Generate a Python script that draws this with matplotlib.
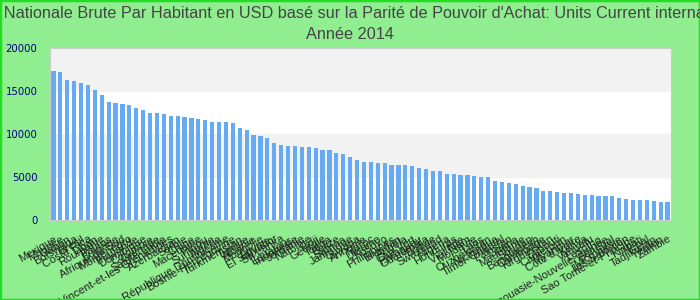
import matplotlib
matplotlib.use("Agg")
import matplotlib.pyplot as plt
from matplotlib.patches import Rectangle

plt.rcParams['font.family'] = ['Liberation Sans', 'DejaVu Sans']

pays = [
    "Mexique", "Maurice", "Gabon", "Botswana", "Brésil", "Costa Rica", "Liban",
    "Roumanie", "Palaos", "Bulgarie", "Afrique du Sud", "Monténégro", "Thaïlande",
    "Dominique", "Colombie", "Grenade", "Sainte-Lucie",
    "Saint-Vincent-et-les Grenadines", "Azerbaïdjan", "Serbie", "Chine",
    "Macédoine", "Pérou", "Suriname", "Algérie", "République Dominicaine",
    "Bosnie-Herzégovine", "Turkménistan", "Tunisie", "Albanie", "Mongolie",
    "Égypte", "El Salvador", "Sri Lanka", "Équateur", "Indonésie", "Jordanie",
    "Namibie", "Fidji", "Géorgie", "Tonga", "Belize", "Samoa", "Jamaïque",
    "Guyana", "Arménie", "Maroc", "Ukraine", "Kosovo", "Philippines", "Bhoutan",
    "Angola", "Cap-Vert", "Paraguay", "Guatemala", "Bolivie", "Swaziland",
    "Nigeria", "Honduras", "Inde", "Viêt Nam", "Moldavie", "Laos",
    "Ouzbékistan", "Nicaragua", "Timor-Oriental", "Pakistan", "Ghana",
    "Mauritanie", "Soudan", "Bangladesh", "Cambodge", "Kirghizistan",
    "Djibouti", "Cameroun", "Myanmar", "Côte d'Ivoire", "Kenya", "Vanuatu",
    "Lesotho", "Papouasie-Nouvelle-Guinée", "Sénégal", "Micronésie",
    "Îles Salomon", "Sao Tomé-et-Principe", "Kiribati", "Népal",
    "Tadjikistan", "Yémen", "Zambie",
]

rnb = [
    17360, 17240, 16310, 16190, 15880, 15730, 15140, 14560, 13750, 13630,
    13510, 13400, 13050, 12820, 12470, 12470, 12350, 12120, 12120, 12000,
    11880, 11770, 11650, 11420, 11420, 11420, 11300, 10720, 10490, 9900,
    9790, 9550, 8930, 8740, 8620, 8620, 8500, 8500, 8390, 8150,
    8150, 7810, 7650, 7340, 6990, 6760, 6760, 6640, 6640, 6410,
    6410, 6410, 6290, 6060, 5940, 5710, 5710, 5360, 5360, 5240,
    5240, 5130, 5010, 5010, 4540, 4430, 4310, 4190, 3960, 3840,
    3730, 3380, 3380, 3260, 3150, 3150, 3030, 2910, 2910, 2800,
    2800, 2800, 2560, 2450, 2330, 2330, 2330, 2210, 2100, 2100,
]

titre = ("Revenu Nationale Brute Par Habitant en USD basé sur la Parité de "
         "Pouvoir d'Achat: Units Current international $\nAnnée 2014")

fig = plt.figure(figsize=(7, 3), dpi=100, facecolor="#90ee90")
fig.patches.append(Rectangle((0, 0), 1, 1, transform=fig.transFigure,
                             fill=False, edgecolor="#22dd22", linewidth=2.5))
ax = fig.add_axes([50 / 700, 1 - 220 / 300, 621 / 700, 172 / 300])

# bandes alternées
ax.axhspan(15000, 20000, color="#f2f2f2", zorder=0)
ax.axhspan(5000, 10000, color="#f2f2f2", zorder=0)

x = range(len(pays))
ax.bar(x, rnb, width=0.6, color="#66aaf2", zorder=2)

ax.set_xlim(-0.5, len(pays) - 0.5)
ax.set_ylim(0, 20000)
ax.set_yticks([0, 5000, 10000, 15000, 20000])
ax.tick_params(axis="y", length=0, colors="#000080", labelsize=7.3, pad=9)
for t in ax.get_yticklabels():
    t.set_family("DejaVu Sans")
ax.tick_params(axis="x", length=0, labelsize=8, pad=10)
ax.set_xticks(list(x))
ax.set_xticklabels(pays, rotation=30, ha="right", rotation_mode="anchor",
                   color="#222222")
for s in ax.spines.values():
    s.set_color("#cccccc")

fig.text(0.5, 0.982, titre, ha="center", va="top", fontsize=11.7,
         color="#444444", linespacing=1.55)

fig.savefig("out.png", facecolor=fig.get_facecolor())
